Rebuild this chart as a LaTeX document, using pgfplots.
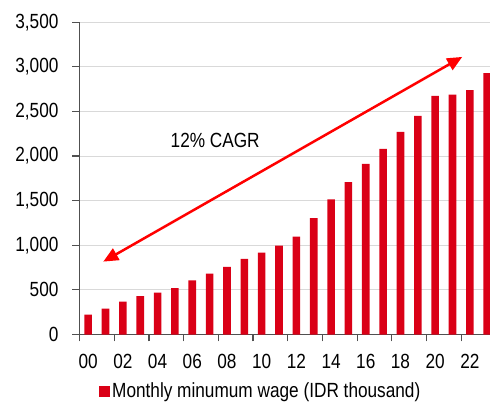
\documentclass[border=0pt]{standalone}
\usepackage{fontspec}
\setmainfont{Liberation Sans}[FakeStretch=0.84]
\usepackage{pgfplots}
\pgfplotsset{compat=1.18}
\usetikzlibrary{arrows.meta}
\definecolor{barred}{RGB}{218,0,22}
\definecolor{gridgray}{RGB}{217,217,217}
\definecolor{axgray}{RGB}{80,80,80}
\begin{document}
\begin{tikzpicture}
\fontsize{20.5bp}{24bp}\selectfont
\begin{axis}[
  at={(79.5bp,69.5bp)}, anchor=south west,
  scale only axis, width=410.5bp, height=312.2bp,
  xmin=-0.5, xmax=23.16, ymin=0, ymax=3500,
  axis x line*=bottom, axis y line*=left,
  axis line style={axgray, line width=1.2bp},
  x axis line style={line width=1.6bp},
  ytick={0,500,...,3500},
  yticklabels={0,500,{1,000},{1,500},{2,000},{2,500},{3,000},{3,500}},
  xtick={-0.5,1.5,...,21.5}, xticklabels={},
  extra x ticks={0,2,...,22},
  extra x tick labels={00,02,04,06,08,10,12,14,16,18,20,22},
  extra x tick style={major tick length=0pt, xticklabel style={yshift=-13bp}},
  tick align=outside, major tick length=7bp,
  tick style={axgray, line width=1.2bp},
  ymajorgrids, grid style={gridgray, line width=1bp},
  /pgf/number format/assume math mode=true,
  ticklabel style={font=\fontsize{20.5bp}{24bp}\selectfont, text=black},
  yticklabel style={xshift=-7bp},
  legend style={draw=none, fill=none, at={(0.0475,-0.184)}, anchor=west,
    font=\fontsize{20.5bp}{24bp}\selectfont, inner sep=0pt,
    /tikz/every even column/.append style={column sep=0bp}},
  legend image code/.code={\fill[barred] (0bp,-5bp) rectangle (11bp,5.5bp);},
  clip=true,
]
\addplot[ybar, fill=barred, draw=none, bar width=0.44] coordinates {
(0,224) (1,291) (2,369) (3,429) (4,470) (5,519) (6,608) (7,683)
(8,757) (9,847) (10,918) (11,996) (12,1097) (13,1306) (14,1515)
(15,1709) (16,1914) (17,2082) (18,2272) (19,2451) (20,2675)
(21,2690) (22,2739) (23,2929)};
\addlegendentry{Monthly minumum wage (IDR thousand)}
\draw[red, line width=2.5bp, {Triangle[length=15bp,width=13bp]}-{Triangle[length=15bp,width=13bp]}]
  (axis cs:0.87,817) -- (axis cs:21.56,3112);
\node[font=\fontsize{20.5bp}{24bp}\selectfont] at (axis cs:7.32,2177) {12\% CAGR};
\end{axis}
\pgfresetboundingbox
\path[use as bounding box] (0,0) rectangle (490bp,404bp);
\end{tikzpicture}
\end{document}
